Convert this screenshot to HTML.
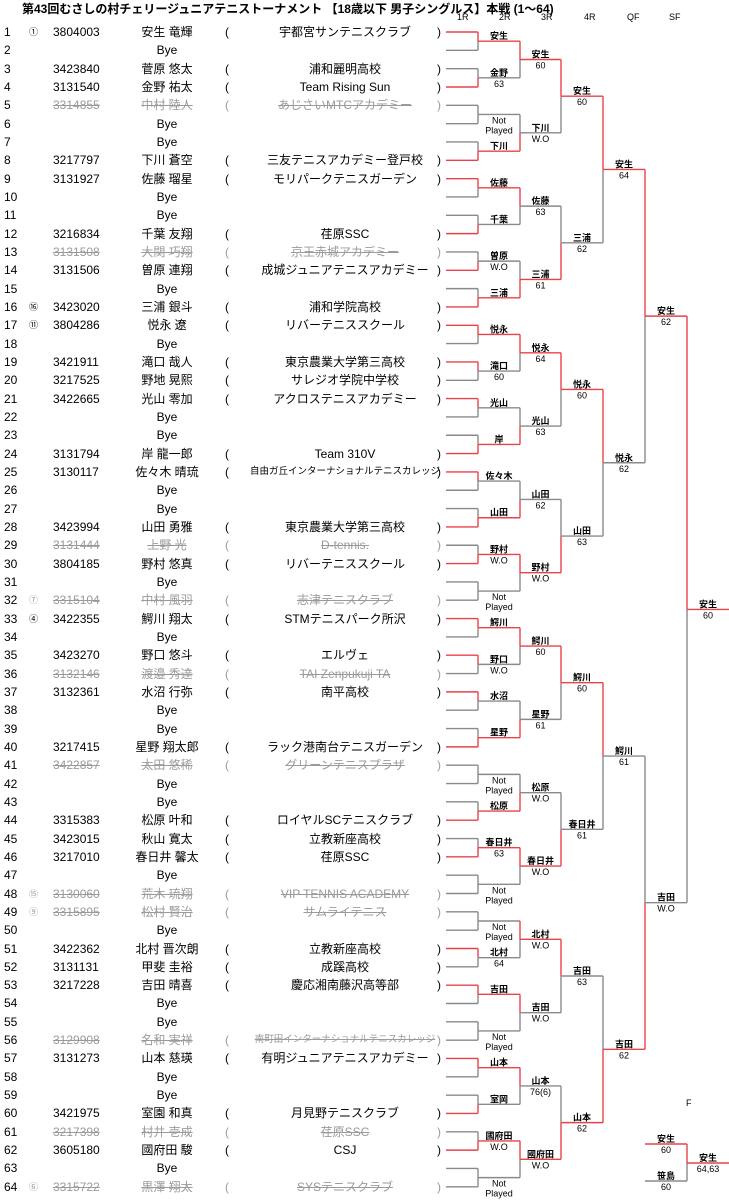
<!DOCTYPE html>
<html><head><meta charset="utf-8">
<style>
body{margin:0;background:#fff;width:729px;height:1200px;overflow:hidden;position:relative;font-family:"Liberation Sans","Noto Sans CJK JP",sans-serif;}
#t{position:absolute;left:22px;top:0px;font-size:12px;font-weight:bold;white-space:nowrap;color:#000}
.c{position:absolute;font-size:12px;line-height:16px;white-space:nowrap;color:#000}
.g{color:#9a9a9a;text-decoration:line-through}
.h{position:absolute;top:12px;font-size:9px;color:#000}
svg{position:absolute;left:0;top:0}
</style></head><body>
<div id="t">第43回むさしの村チェリージュニアテニストーナメント 【18歳以下 男子シングルス】本戦 (1～64)</div>
<div class="h" style="left:457px">1R</div><div class="h" style="left:499px">2R</div><div class="h" style="left:541px">3R</div><div class="h" style="left:584px">4R</div><div class="h" style="left:627px">QF</div><div class="h" style="left:669px">SF</div>
<div id="rows"></div>
<svg id="s" width="729" height="1200" xmlns="http://www.w3.org/2000/svg"></svg>
<script>
var P=[
["①","3804003","安生 竜輝","宇都宮サンテニスクラブ",0],[],
["","3423840","菅原 悠太","浦和麗明高校",0],["","3131540","金野 祐太","Team Rising Sun",0],
["","3314855","中村 陸人","あじさいMTCアカデミー",1],[],[],
["","3217797","下川 蒼空","三友テニスアカデミー登戸校",0],
["","3131927","佐藤 瑠星","モリパークテニスガーデン",0],[],[],
["","3216834","千葉 友翔","荏原SSC",0],
["","3131508","大関 巧翔","京王赤城アカデミー",1],
["","3131506","曽原 連翔","成城ジュニアテニスアカデミー",0],[],
["⑯","3423020","三浦 銀斗","浦和学院高校",0],
["⑪","3804286","悦永 遼","リバーテニススクール",0],[],
["","3421911","滝口 哉人","東京農業大学第三高校",0],
["","3217525","野地 晃熙","サレジオ学院中学校",0],
["","3422665","光山 零加","アクロステニスアカデミー",0],[],[],
["","3131794","岸 龍一郎","Team 310V",0],
["","3130117","佐々木 晴琉","自由ガ丘インターナショナルテニスカレッジ",0,1],[],[],
["","3423994","山田 勇雅","東京農業大学第三高校",0],
["","3131444","上野 光","D-tennis.",1],
["","3804185","野村 悠真","リバーテニススクール",0],[],
["⑦","3315104","中村 風羽","志津テニスクラブ",1],
["④","3422355","鰐川 翔太","STMテニスパーク所沢",0],[],
["","3423270","野口 悠斗","エルヴェ",0],
["","3132146","渡邉 秀達","TAI Zenpukuji TA",1],
["","3132361","水沼 行弥","南平高校",0],[],[],
["","3217415","星野 翔太郎","ラック港南台テニスガーデン",0],
["","3422857","太田 悠稀","グリーンテニスプラザ",1],[],[],
["","3315383","松原 叶和","ロイヤルSCテニスクラブ",0],
["","3423015","秋山 寛太","立教新座高校",0],
["","3217010","春日井 馨太","荏原SSC",0],[],
["⑮","3130060","荒木 琉翔","VIP TENNIS ACADEMY",1],
["⑨","3315895","松村 賢治","サムライテニス",1],[],
["","3422362","北村 晋次朗","立教新座高校",0],
["","3131131","甲斐 圭裕","成蹊高校",0],
["","3217228","吉田 晴喜","慶応湘南藤沢高等部",0],[],[],
["","3129908","名和 実祥","南町田インターナショナルテニスカレッジ",1,1],
["","3131273","山本 慈瑛","有明ジュニアテニスアカデミー",0],[],[],
["","3421975","室園 和真","月見野テニスクラブ",0],
["","3217398","村井 壱成","荏原SSC",1],
["","3605180","國府田 駿","CSJ",0],[],
["⑥","3315722","黒澤 翔太","SYSテニスクラブ",1]];
function Y(i){return 32+i*18.33;}
var h="";
for(var i=0;i<64;i++){var p=P[i],y=Y(i)-8;
h+='<div class="c" style="left:4px;top:'+y+'px">'+(i+1)+'</div>';
if(!p.length){h+='<div class="c" style="left:147px;width:40px;text-align:center;top:'+y+'px">Bye</div>';continue;}
var g=p[4]?' g':'';
if(p[0])h+='<div class="c'+(p[4]?' g':'')+'" style="left:29px;top:'+y+'px;font-size:9px;text-decoration:none">'+p[0]+'</div>';
h+='<div class="c'+g+'" style="left:53px;top:'+y+'px">'+p[1]+'</div>';
h+='<div class="c'+g+'" style="left:107px;width:120px;text-align:center;top:'+y+'px">'+p[2]+'</div>';
h+='<div class="c'+g+'" style="left:225px;top:'+y+'px;text-decoration:none">(</div>';
h+='<div class="c'+g+'" style="left:235px;width:220px;text-align:center;top:'+y+'px;'+(p[5]?'font-size:9.5px;':'')+'">'+p[3]+'</div>';
h+='<div class="c'+g+'" style="left:437px;top:'+y+'px;text-decoration:none">)</div>';}
document.getElementById('rows').innerHTML=h;
var L=[null,
[[0,"安生",""],[1,"金野","63"],[-1],[1,"下川",""],[0,"佐藤",""],[1,"千葉",""],[1,"曽原","W.O"],[1,"三浦",""],
[0,"悦永",""],[0,"滝口","60"],[0,"光山",""],[1,"岸",""],[0,"佐々木",""],[1,"山田",""],[1,"野村","W.O"],[-1],
[0,"鰐川",""],[0,"野口","W.O"],[0,"水沼",""],[1,"星野",""],[-1],[1,"松原",""],[1,"春日井","63"],[-1],
[-1],[0,"北村","64"],[0,"吉田",""],[-1],[0,"山本",""],[1,"室岡",""],[1,"國府田","W.O"],[-1]],
[[0,"安生","60"],[1,"下川","W.O"],[0,"佐藤","63"],[1,"三浦","61"],[0,"悦永","64"],[1,"光山","63"],[1,"山田","62"],[0,"野村","W.O"],
[0,"鰐川","60"],[1,"星野","61"],[1,"松原","W.O"],[0,"春日井","W.O"],[0,"北村","W.O"],[0,"吉田","W.O"],[0,"山本","76(6)"],[0,"國府田","W.O"]],
[[0,"安生","60"],[1,"三浦","62"],[0,"悦永","60"],[1,"山田","63"],[0,"鰐川","60"],[1,"春日井","61"],[0,"吉田","63"],[1,"山本","62"]],
[[0,"安生","64"],[0,"悦永","62"],[0,"鰐川","61"],[1,"吉田","62"]],
[[0,"安生","62"],[1,"吉田","W.O"]],
[[0,"安生","60"]]];
var X=[446,478,520,561,603,645,687,729];
var R="#e8424a",G="#8a8a8a",s="";
function ln(x1,y1,x2,y2,c){s+='<line x1="'+x1+'" y1="'+y1+'" x2="'+x2+'" y2="'+y2+'" stroke="'+c+'" stroke-width="1.4"/>';}
function tx(x,y,t,b){s+='<text x="'+x+'" y="'+y+'" font-size="9" text-anchor="middle" font-family="Liberation Sans,Noto Sans CJK JP,sans-serif"'+(b?' font-weight="bold"':'')+'>'+t+'</text>';}
var ys=[],win=[];
for(var i=0;i<64;i++){ys.push(Y(i));var m=L[1][i>>1];win.push(m[0]===(i&1));}
for(var i=0;i<64;i++)ln(X[0],ys[i],X[1],ys[i],win[i]?R:G);
for(var k=1;k<=6;k++){var ny=[];
for(var j=0;j<L[k].length;j++){var m=L[k][j],a=ys[2*j],b=ys[2*j+1],y=(a+b)/2;ny.push(y);
 if(m[0]<0){ln(X[k],a,X[k],b,G);}else{var wy=m[0]?b:a,ly=m[0]?a:b;ln(X[k],ly,X[k],y,G);ln(X[k],wy,X[k],y,R);}
 var up=(k<6)?L[k+1][j>>1]:[0];var w=(m[0]>=0)&&(up[0]===(j&1));if(k==6)w=true;
 ln(X[k],y,X[k+1],y,w?R:G);
 var cx=(X[k]+X[k+1])/2;
 if(m[0]<0){tx(cx,y+9,"Not");tx(cx,y+19,"Played");}
 else{tx(cx,y-2,m[1],1);if(m[2])tx(cx,y+9,m[2]);}
}
ys=ny;}
ln(645,1144,687,1144,R);ln(645,1181,687,1181,G);ln(687,1144,687,1163,R);ln(687,1163,687,1181,G);ln(687,1163,729,1163,R);
tx(666,1142,"安生",1);tx(666,1153,"60");tx(666,1179,"笹島",1);tx(666,1190,"60");tx(708,1161,"安生",1);tx(708,1172,"64,63");
s+='<text x="686" y="1106" font-size="9" font-family="Liberation Sans,sans-serif">F</text>';
document.getElementById('s').innerHTML=s;
</script>
</body></html>
